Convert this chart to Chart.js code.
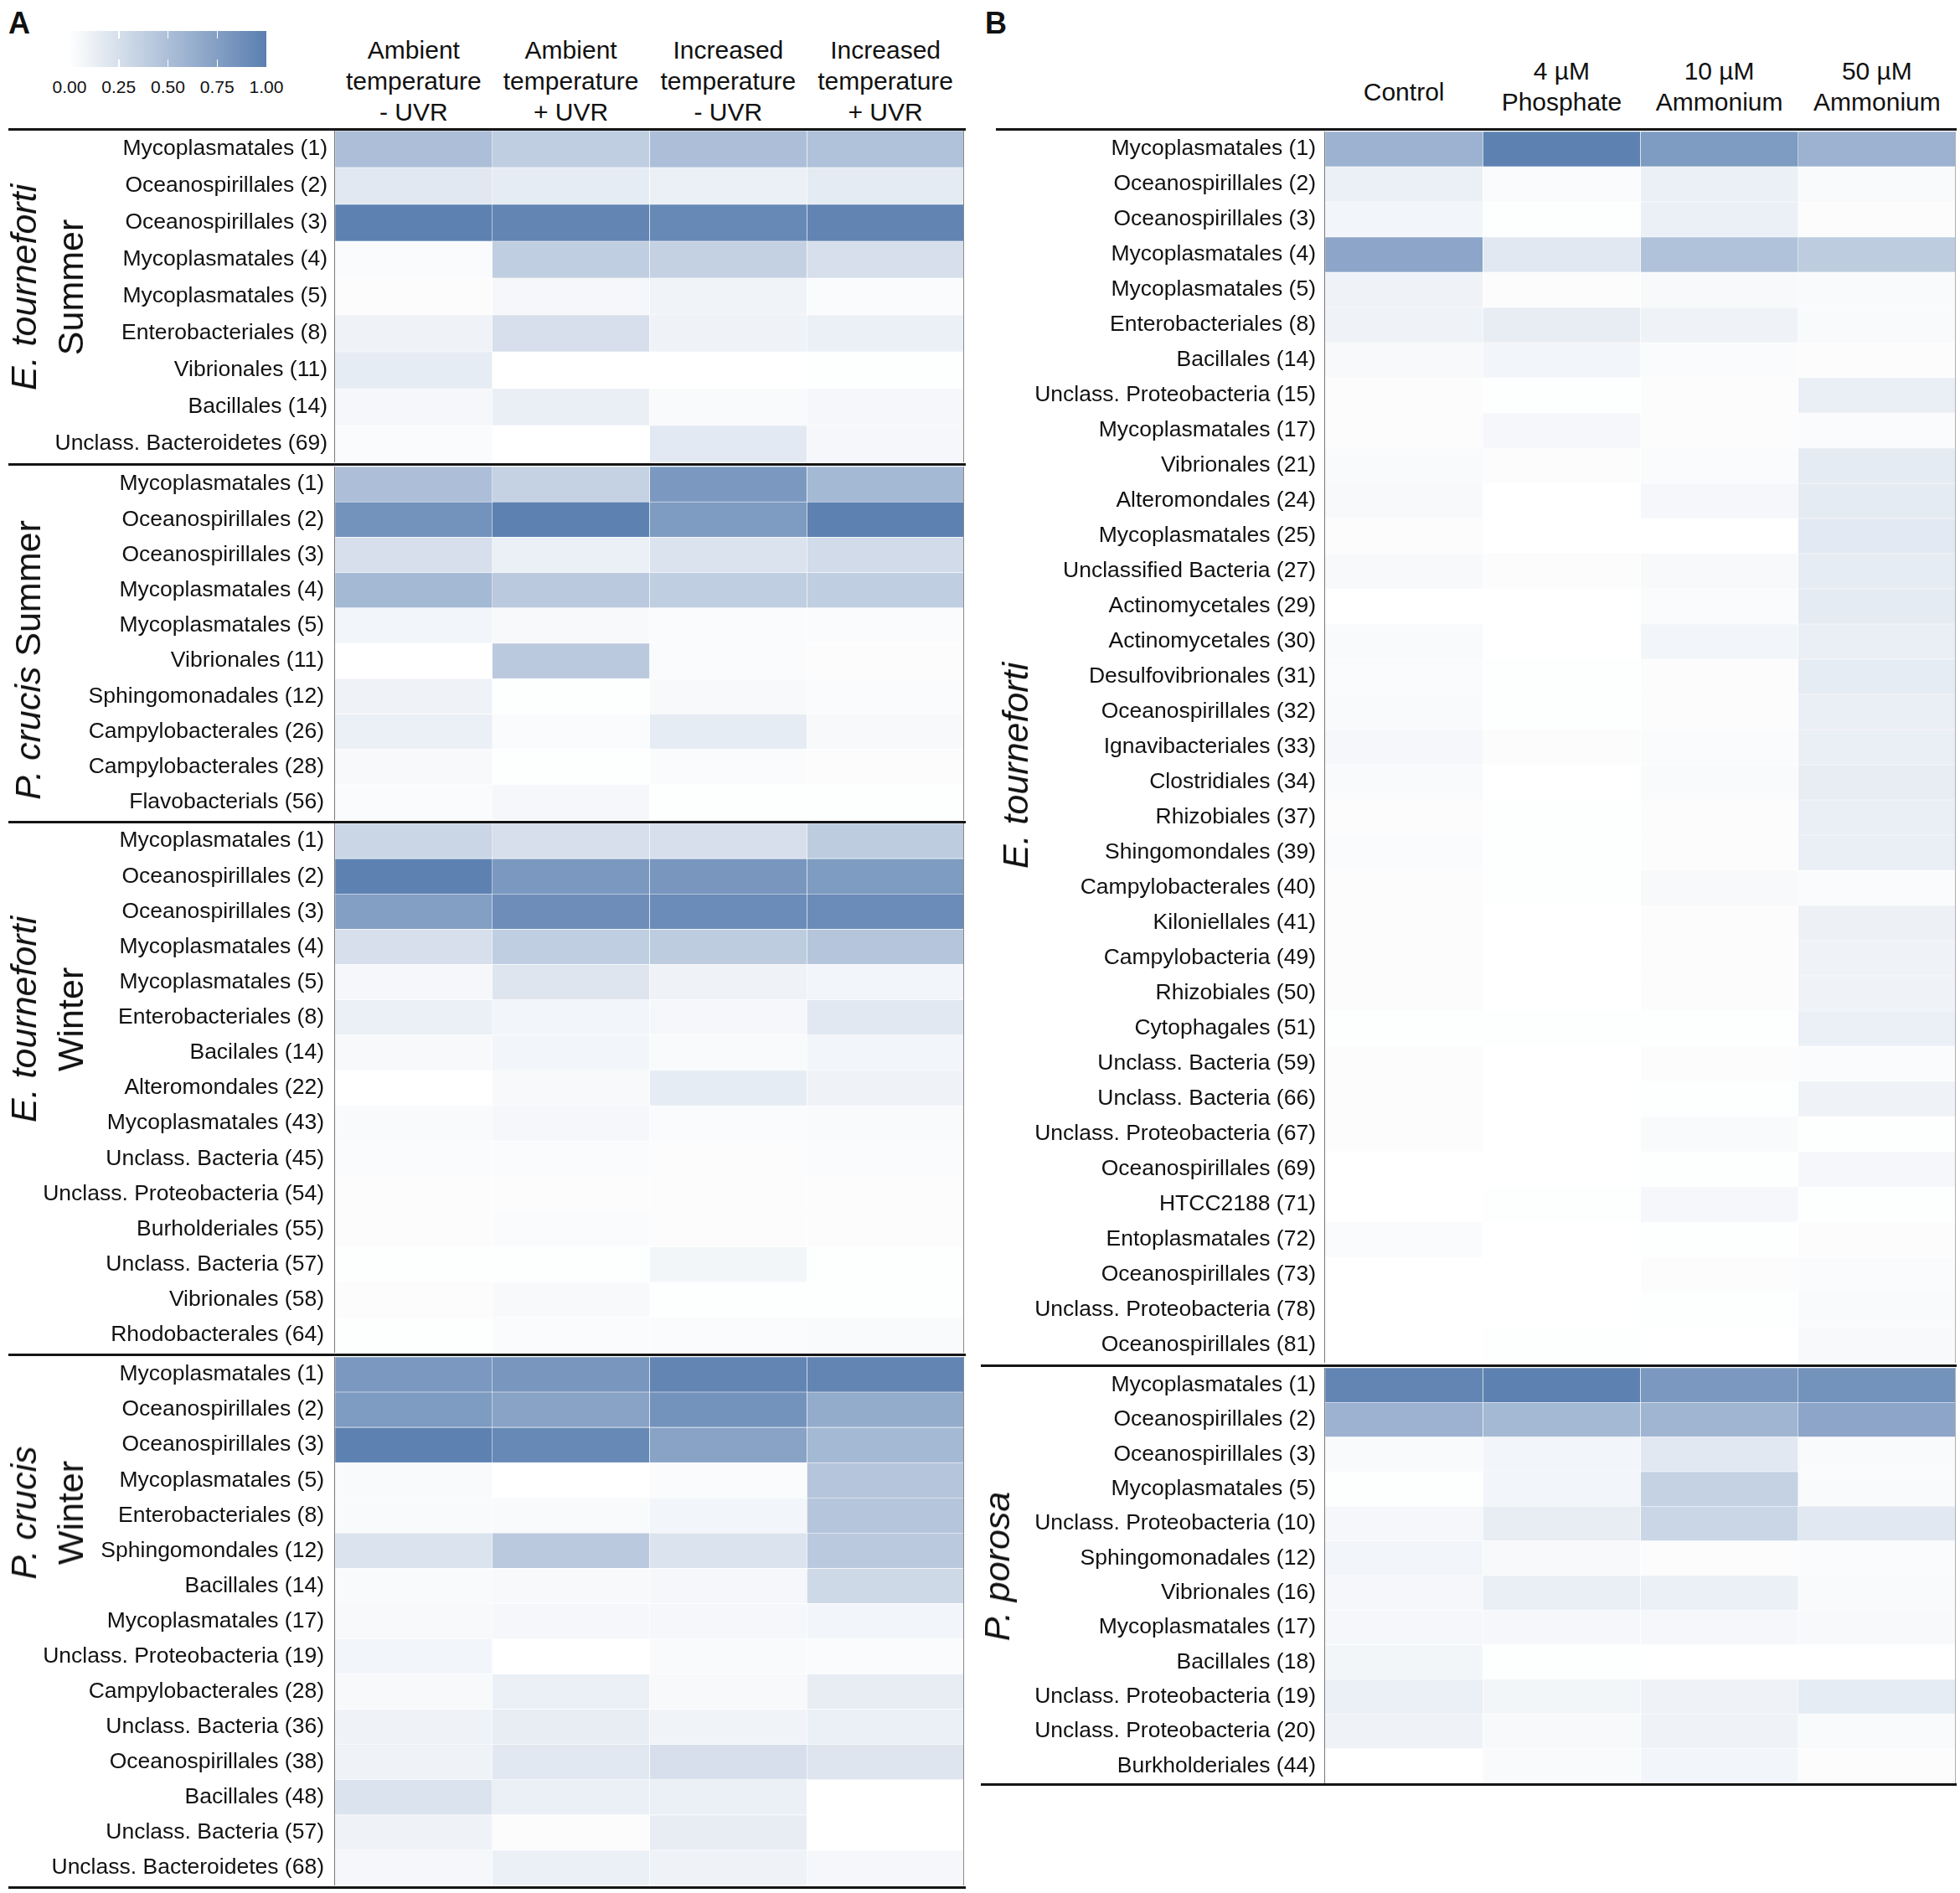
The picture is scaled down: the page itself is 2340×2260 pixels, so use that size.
<!DOCTYPE html>
<html><head><meta charset="utf-8">
<script src="https://cdn.jsdelivr.net/npm/chart.js@4.4.1/dist/chart.umd.min.js"></script>
<style>
body{margin:0;background:#fff;}
#wrap{position:relative;width:2340px;height:2260px;overflow:hidden;font-family:"Liberation Sans",Arial,Helvetica,sans-serif;color:#111;background:#fff;}
.hline{position:absolute;background:#151515;height:3px;}
.vline{position:absolute;background:#8a8a8a;width:1.5px;}
.hdr{position:absolute;font-size:30px;line-height:37px;text-align:center;white-space:nowrap;transform:translateX(-50%);}
.grp{position:absolute;font-size:43px;line-height:56px;text-align:center;white-space:nowrap;transform:translate(-50%,-50%) rotate(-90deg);}
.letter{position:absolute;font-size:36px;line-height:36px;font-weight:bold;}
.lgtick{position:absolute;font-size:21px;line-height:24px;transform:translateX(-50%);white-space:nowrap;}
canvas{position:absolute;}
</style></head>
<body><div id="wrap"></div>
<script>
// ---------- data ----------
const colsA = [["Ambient","temperature","- UVR"],["Ambient","temperature","+ UVR"],["Increased","temperature","- UVR"],["Increased","temperature","+ UVR"]];
const colsB = [["Control"],["4 µM","Phosphate"],["10 µM","Ammonium"],["50 µM","Ammonium"]];
const legendTicks = ["0.00","0.25","0.50","0.75","1.00"];

const rowsA1 = ["Mycoplasmatales (1)","Oceanospirillales (2)","Oceanospirillales (3)","Mycoplasmatales (4)","Mycoplasmatales (5)","Enterobacteriales (8)","Vibrionales (11)","Bacillales (14)","Unclass. Bacteroidetes (69)"];
const valsA1 = [[0.50,0.38,0.50,0.48],[0.18,0.15,0.12,0.16],[0.98,0.95,0.92,0.96],[0.03,0.38,0.36,0.25],[0.02,0.06,0.09,0.03],[0.10,0.25,0.10,0.12],[0.15,0.00,0.00,0.01],[0.06,0.13,0.04,0.06],[0.03,0.00,0.17,0.06]];

const rowsA2 = ["Mycoplasmatales (1)","Oceanospirillales (2)","Oceanospirillales (3)","Mycoplasmatales (4)","Mycoplasmatales (5)","Vibrionales (11)","Sphingomonadales (12)","Campylobacterales (26)","Campylobacterales (28)","Flavobacterials (56)"];
const valsA2 = [[0.50,0.35,0.80,0.55],[0.85,0.98,0.78,0.98],[0.25,0.12,0.22,0.28],[0.55,0.42,0.38,0.38],[0.08,0.05,0.03,0.03],[0.00,0.42,0.03,0.02],[0.10,0.01,0.05,0.03],[0.12,0.03,0.15,0.05],[0.05,0.01,0.03,0.02],[0.03,0.06,0.01,0.01]];

const rowsA3 = ["Mycoplasmatales (1)","Oceanospirillales (2)","Oceanospirillales (3)","Mycoplasmatales (4)","Mycoplasmatales (5)","Enterobacteriales (8)","Bacilales (14)","Alteromondales (22)","Mycoplasmatales (43)","Unclass. Bacteria (45)","Unclass. Proteobacteria (54)","Burholderiales (55)","Unclass. Bacteria (57)","Vibrionales (58)","Rhodobacterales (64)"];
const valsA3 = [[0.32,0.25,0.25,0.40],[0.98,0.80,0.82,0.78],[0.75,0.88,0.90,0.90],[0.25,0.38,0.40,0.45],[0.06,0.20,0.10,0.08],[0.12,0.08,0.06,0.18],[0.05,0.08,0.04,0.08],[0.00,0.05,0.15,0.10],[0.04,0.06,0.03,0.04],[0.03,0.03,0.02,0.03],[0.02,0.02,0.02,0.02],[0.02,0.03,0.02,0.02],[0.01,0.01,0.07,0.01],[0.02,0.05,0.01,0.01],[0.01,0.03,0.03,0.04]];

const rowsA4 = ["Mycoplasmatales (1)","Oceanospirillales (2)","Oceanospirillales (3)","Mycoplasmatales (5)","Enterobacteriales (8)","Sphingomondales (12)","Bacillales (14)","Mycoplasmatales (17)","Unclass. Proteobacteria (19)","Campylobacterales (28)","Unclass. Bacteria (36)","Oceanospirillales (38)","Bacillales (48)","Unclass. Bacteria (57)","Unclass. Bacteroidetes (68)"];
const valsA4 = [[0.80,0.82,0.95,0.95],[0.78,0.72,0.85,0.65],[0.98,0.92,0.72,0.55],[0.04,0.00,0.03,0.45],[0.04,0.04,0.08,0.45],[0.22,0.42,0.22,0.42],[0.04,0.05,0.06,0.30],[0.05,0.06,0.06,0.08],[0.08,0.00,0.04,0.03],[0.05,0.12,0.05,0.14],[0.10,0.14,0.09,0.12],[0.10,0.18,0.25,0.20],[0.22,0.12,0.12,0.00],[0.10,0.02,0.14,0.00],[0.06,0.12,0.10,0.06]];

const rowsB1 = ["Mycoplasmatales (1)","Oceanospirillales (2)","Oceanospirillales (3)","Mycoplasmatales (4)","Mycoplasmatales (5)","Enterobacteriales (8)","Bacillales (14)","Unclass. Proteobacteria (15)","Mycoplasmatales (17)","Vibrionales (21)","Alteromondales (24)","Mycoplasmatales (25)","Unclassified Bacteria (27)","Actinomycetales (29)","Actinomycetales (30)","Desulfovibrionales (31)","Oceanospirillales (32)","Ignavibacteriales (33)","Clostridiales (34)","Rhizobiales (37)","Shingomondales (39)","Campylobacterales (40)","Kiloniellales (41)","Campylobacteria (49)","Rhizobiales (50)","Cytophagales (51)","Unclass. Bacteria (59)","Unclass. Bacteria (66)","Unclass. Proteobacteria (67)","Oceanospirillales (69)","HTCC2188 (71)","Entoplasmatales (72)","Oceanospirillales (73)","Unclass. Proteobacteria (78)","Oceanospirillales (81)"];
const valsB1 = [[0.60,0.98,0.78,0.60],[0.12,0.03,0.12,0.04],[0.08,0.01,0.12,0.02],[0.70,0.18,0.48,0.40],[0.10,0.02,0.05,0.04],[0.10,0.14,0.10,0.04],[0.05,0.08,0.03,0.02],[0.02,0.01,0.02,0.13],[0.02,0.06,0.02,0.03],[0.04,0.02,0.03,0.16],[0.05,0.00,0.06,0.16],[0.02,0.00,0.00,0.17],[0.05,0.02,0.05,0.15],[0.00,0.00,0.03,0.16],[0.04,0.00,0.08,0.13],[0.03,0.01,0.02,0.15],[0.04,0.01,0.02,0.13],[0.06,0.02,0.03,0.13],[0.04,0.00,0.04,0.14],[0.02,0.01,0.02,0.13],[0.03,0.01,0.02,0.13],[0.02,0.01,0.05,0.03],[0.02,0.00,0.02,0.11],[0.02,0.00,0.02,0.10],[0.02,0.00,0.02,0.10],[0.01,0.01,0.01,0.12],[0.02,0.00,0.02,0.03],[0.02,0.00,0.01,0.10],[0.02,0.00,0.04,0.01],[0.00,0.00,0.01,0.06],[0.00,0.01,0.06,0.01],[0.03,0.00,0.01,0.02],[0.00,0.00,0.02,0.03],[0.00,0.00,0.01,0.04],[0.00,0.01,0.00,0.05]];

const rowsB2 = ["Mycoplasmatales (1)","Oceanospirillales (2)","Oceanospirillales (3)","Mycoplasmatales (5)","Unclass. Proteobacteria (10)","Sphingomonadales (12)","Vibrionales (16)","Mycoplasmatales (17)","Bacillales (18)","Unclass. Proteobacteria (19)","Unclass. Proteobacteria (20)","Burkholderiales (44)"];
const valsB2 = [[0.95,0.98,0.80,0.85],[0.60,0.55,0.58,0.70],[0.04,0.08,0.18,0.04],[0.01,0.08,0.35,0.04],[0.06,0.14,0.32,0.18],[0.08,0.05,0.02,0.03],[0.06,0.13,0.12,0.04],[0.06,0.06,0.06,0.05],[0.07,0.01,0.00,0.00],[0.12,0.07,0.10,0.15],[0.10,0.05,0.10,0.04],[0.00,0.04,0.08,0.02]];

const groupA1 = ["<i>E. tourneforti</i>","Summer"];
const groupA2 = ["<i>P. crucis</i> Summer"];
const groupA3 = ["<i>E. tourneforti</i>","Winter"];
const groupA4 = ["<i>P. crucis</i>","Winter"];
const groupB1 = ["<i>E. tourneforti</i>"];
const groupB2 = ["<i>P. porosa</i>"];

// ---------- rendering ----------
const FONT = "'Liberation Sans', Arial, Helvetica, sans-serif";
Chart.defaults.font.family = FONT;
const DARK = [90,127,176];
function cellColor(v){
  const t = Math.max(0, Math.min(1, v));
  const c = DARK.map(d => Math.round(255 + (d - 255) * t));
  return 'rgb(' + c.join(',') + ')';
}
const wrap = document.getElementById('wrap');
function add(cls, style, html){
  const d = document.createElement('div');
  d.className = cls; Object.assign(d.style, style); if (html !== undefined) d.innerHTML = html;
  wrap.appendChild(d); return d;
}

function makePanel(p){
  const cv = document.createElement('canvas');
  const w = p.labelW + p.cellW;
  cv.width = w; cv.height = p.height;
  cv.style.left = p.left + 'px'; cv.style.top = p.top + 'px';
  cv.style.width = w + 'px'; cv.style.height = p.height + 'px';
  wrap.appendChild(cv);
  const datasets = [0,1,2,3].map(c => ({
    data: p.rows.map((r, i) => ({x: [c, c + 1], y: r, v: p.vals[i][c]})),
    backgroundColor: ctx => cellColor(ctx.raw ? ctx.raw.v : 0),
    borderColor: '#ffffff', borderWidth: 0.6, borderSkipped: false,
    grouped: false, categoryPercentage: 1, barPercentage: 1
  }));
  const chart = new Chart(cv, {
    type: 'bar',
    data: {labels: p.rows, datasets},
    options: {
      indexAxis: 'y', responsive: false, animation: false, devicePixelRatio: 1,
      layout: {padding: 0},
      plugins: {legend: {display: false}, tooltip: {enabled: false}},
      events: [],
      scales: {
        x: {type: 'linear', min: 0, max: 4, display: false},
        y: {type: 'category', offset: true,
            grid: {display: false, drawTicks: false},
            border: {display: true, color: '#7a7a7a', width: 1.5},
            ticks: {autoSkip: false, padding: p.pad, color: '#111', font: {size: 26.5, family: FONT}},
            afterFit: s => { s.width = p.labelW; s.paddingTop = 0; s.paddingBottom = 0; }
        }
      }
    }
  });
  add('vline', {left: (p.left + w - 1.5) + 'px', top: p.top + 'px', height: p.height + 'px', background: p.rightColor});
  return chart;
}

const A = {left: 10, labelW: 390, cellW: 751};
const B = {left: 1172, labelW: 410, cellW: 753};
const panels = [
  {rows: rowsA1, vals: valsA1, ...A, top: 156, height: 396, pad: 9, group: groupA1, gx: 56, gy: 343, rightColor:'#8a8a8a'},
  {rows: rowsA2, vals: valsA2, ...A, top: 557, height: 422, pad: 13, group: groupA2, gx: 33, gy: 788, rightColor:'#8a8a8a'},
  {rows: rowsA3, vals: valsA3, ...A, top: 983, height: 632, pad: 13, group: groupA3, gx: 56, gy: 1217, rightColor:'#8a8a8a'},
  {rows: rowsA4, vals: valsA4, ...A, top: 1620, height: 631, pad: 13, group: groupA4, gx: 56, gy: 1806, rightColor:'#8a8a8a'},
  {rows: rowsB1, vals: valsB1, ...B, top: 157, height: 1470, pad: 11, group: groupB1, gx: 1212, gy: 914, rightColor:'#b0b0b0'},
  {rows: rowsB2, vals: valsB2, ...B, top: 1633, height: 496, pad: 11, group: groupB2, gx: 1190, gy: 1870, rightColor:'#b0b0b0'}
];
const charts = panels.map(makePanel);

panels.forEach(p => add('grp', {left: p.gx + 'px', top: p.gy + 'px'}, p.group.join('<br>')));

[[10,1153,153],[10,1153,553],[10,1153,980],[10,1153,1616],[10,1153,2252],
 [1189,2336,153],[1171,2336,1629],[1171,2336,2129]].forEach(([x0,x1,y]) =>
  add('hline', {left: x0 + 'px', width: (x1 - x0) + 'px', top: y + 'px'}));

function headers(chart, cols, left, tops){
  cols.forEach((lines, c) => {
    const x = left + chart.scales.x.getPixelForValue(c + 0.5);
    add('hdr', {left: x + 'px', top: tops[lines.length] + 'px'}, lines.join('<br>'));
  });
}
headers(charts[0], colsA, A.left, {3: 41});
headers(charts[4], colsB, B.left, {1: 91, 2: 66});

add('letter', {left: '10px', top: '10px'}, 'A');
add('letter', {left: '1176px', top: '10px'}, 'B');

const LG = {left: 83, top: 37, width: 235, height: 43};
add('', {position:'absolute', left: LG.left+'px', top: LG.top+'px', width: LG.width+'px', height: LG.height+'px',
  background: 'linear-gradient(to right, ' + cellColor(0) + ', ' + cellColor(1) + ')'});
legendTicks.forEach((t, i) => {
  const x = LG.left + LG.width * i / (legendTicks.length - 1);
  if (i > 0 && i < legendTicks.length - 1) {
    add('', {position:'absolute', left: (x - 0.75)+'px', top: LG.top+'px', width:'1.5px', height: (LG.height*0.2)+'px', background:'#fff'});
    add('', {position:'absolute', left: (x - 0.75)+'px', top: (LG.top + LG.height*0.8)+'px', width:'1.5px', height: (LG.height*0.2)+'px', background:'#fff'});
  }
  add('lgtick', {left: x + 'px', top: '92px'}, t);
});
</script></body></html>
